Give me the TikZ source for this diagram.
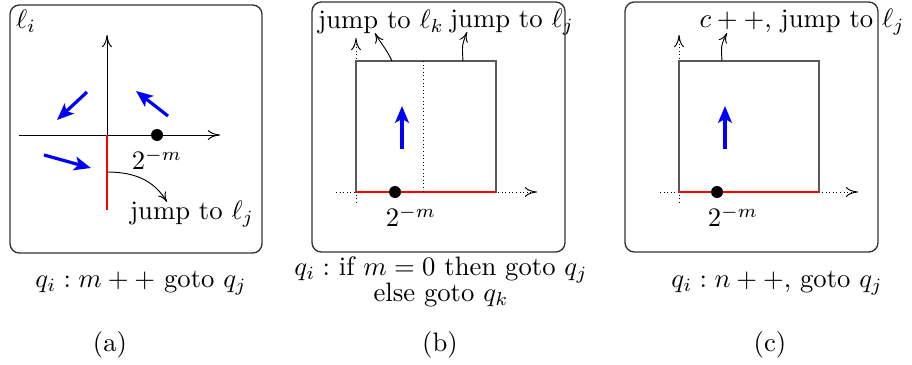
\documentclass[tikz,border=0pt]{standalone}
\usepackage{amsmath,amssymb}
\usepackage{tikz}
\usetikzlibrary{positioning,arrows.meta,calc}

\begin{document}
\begin{tikzpicture}[
    x=0.375pt, y=-0.375pt,
    panel/.style={draw=black!80, line width=0.5pt, rounded corners=3.5pt},
    axis/.style={-{To[length=1.6mm, width=1.3mm]}, line width=0.35pt},
    dotaxis/.style={axis, densely dotted},
    flow/.style={-{Stealth[length=2.2mm, width=1.8mm, inset=0.5mm]}, blue, line width=1.2pt},
    jmp/.style={-{To[length=1.3mm, width=1.2mm]}, line width=0.35pt},
    sq/.style={draw=black!65, line width=0.5pt},
    zero/.style={red, line width=0.9pt},
    pt/.style={circle, fill, inner sep=0pt, minimum size=4.5pt},
    lbl/.style={inner sep=1pt}
]
    \useasboundingbox (0,0) rectangle (912,364);

    % (a) increment of m
    \draw[panel] (10,5) rectangle (262,253);
    \node[lbl] (li) at (26,21) {$\ell_i$};
    \coordinate (oa) at (107,135);
    \draw[axis] (19,135) -- (220,135);
    \draw[axis] (oa) -- (107,35);
    \draw[zero] (oa) -- (107,210);
    \node[pt] (pa) at (157,135) {};
    \node[lbl, below=1.5pt of pa] (ma) {$2^{-m}$};
    \draw[flow] (87,92) -- (57,120);
    \draw[flow] (168,116) -- (136,91);
    \draw[flow] (44,155) -- (91,168);
    \coordinate (ra) at (107,172);
    \coordinate (ta) at (167,202);
    \node[lbl] (ja) at (192,214) {jump to $\ell_j$};
    \draw[jmp] (ra) .. controls (140,172) and (156,184) .. (ta);

    % (b) zero test on m
    \draw[panel] (312,2) rectangle (565,252);
    \draw[dotaxis] (336,192) -- (537,192);
    \draw[dotaxis] (356,203) -- (356,38);
    \draw[sq] (356,192) -- (356,61) -- (496,61) -- (496,192) -- cycle;
    \draw[zero] (356,192) -- (496,192);
    \draw[densely dotted, line width=0.35pt] (423,61) -- (423,192);
    \draw[flow] (402,149) -- (402,106);
    \node[pt] (pb) at (395,192) {};
    \node[lbl, below=1.5pt of pb, xshift=6pt] (mb) {$2^{-m}$};
    \node[lbl] (jk) at (381,22) {jump to $\ell_k$};
    \node[lbl] (jj) at (512,22) {jump to $\ell_j$};
    \coordinate (rb) at (392,61);
    \coordinate (tb) at (375,33);
    \coordinate (sb) at (463,61);
    \coordinate (ub) at (467,32);
    \draw[jmp] (rb) .. controls (386,48) and (379,41) .. (tb);
    \draw[jmp] (sb) .. controls (462,45) .. (ub);

    % (c) increment of n
    \draw[panel] (625,2) rectangle (878,252);
    \draw[dotaxis] (660,192) -- (858,192);
    \draw[dotaxis] (679,203) -- (679,35);
    \draw[sq] (679,192) -- (679,61) -- (819,61) -- (819,192) -- cycle;
    \draw[zero] (679,192) -- (819,192);
    \draw[flow] (725,149) -- (725,106);
    \node[pt] (pc) at (717,192) {};
    \node[lbl, below=1.5pt of pc, xshift=6pt] (mc) {$2^{-m}$};
    \node[lbl] (jc) at (802,22) {$c++$, jump to $\ell_j$};
    \coordinate (rc) at (722,61);
    \coordinate (tc) at (727,33);
    \draw[jmp] (rc) .. controls (721,45) .. (tc);

    % captions
    \node (ca) at (141,283) {$q_i : m++$ goto $q_j$};
    \node[align=center] (cb) at (441,282) {$q_i :$ if $m=0$ then goto $q_j$\\[-2.5pt] else goto $q_k$};
    \node (cc) at (777,283) {$q_i : n++$, goto $q_j$};
    \node (la) at (110,345) {(a)};
    \node (lb) at (440,345) {(b)};
    \node (lc) at (770,345) {(c)};
\end{tikzpicture}
\end{document}
